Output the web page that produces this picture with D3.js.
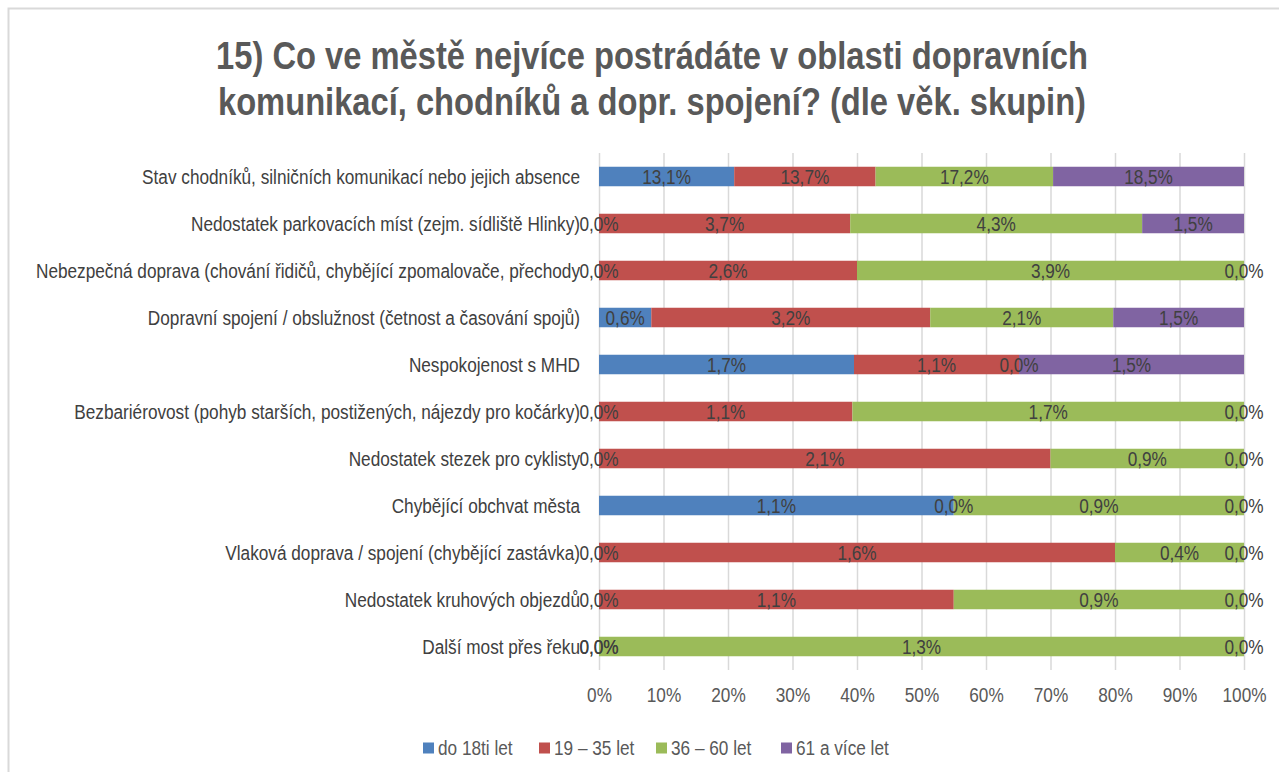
<!DOCTYPE html>
<html lang="cs">
  <head>
    <meta charset="UTF-8" />
    <title>Doprava dle věkových skupin</title>
    <script src="https://d3js.org/d3.v7.min.js"></script>
    <style>
      body {
        margin: 0;
        background: #fff;
      }
      svg {
        font-family: "Liberation Sans Narrow", "Arial Narrow", "Liberation Sans", Arial, sans-serif;
      }
    </style>
  </head>
  <body>
    <div class="chart"></div>

    <script>
      var categories = [
        "Stav chodníků, silničních komunikací nebo jejich absence",
        "Nedostatek parkovacích míst (zejm. sídliště Hlinky)",
        "Nebezpečná doprava (chování řidičů, chybějící zpomalovače, přechody",
        "Dopravní spojení / obslužnost (četnost a časování spojů)",
        "Nespokojenost s MHD",
        "Bezbariérovost (pohyb starších, postižených, nájezdy pro kočárky)",
        "Nedostatek stezek pro cyklisty",
        "Chybějící obchvat města",
        "Vlaková doprava / spojení (chybějící zastávka)",
        "Nedostatek kruhových objezdů",
        "Další most přes řeku"
      ];

      var seriesNames = ["do 18ti let", "19 – 35 let", "36 – 60 let", "61 a více let"];

      // values in % (as shown in the labels)
      var age18 = [13.1, 0.0, 0.0, 0.6, 1.7, 0.0, 0.0, 1.1, 0.0, 0.0, 0.0];
      var age35 = [13.7, 3.7, 2.6, 3.2, 1.1, 1.1, 2.1, 0.0, 1.6, 1.1, 0.0];
      var age60 = [17.2, 4.3, 3.9, 2.1, 0.0, 1.7, 0.9, 0.9, 0.4, 0.9, 1.3];
      var age61 = [18.5, 1.5, 0.0, 1.5, 1.5, 0.0, 0.0, 0.0, 0.0, 0.0, 0.0];

      var tickValues = [0, 0.1, 0.2, 0.3, 0.4, 0.5, 0.6, 0.7, 0.8, 0.9, 1];
      var colors = ["#4f81bd", "#c0504d", "#9bbb59", "#8064a2"];

      var W = 1279, H = 772;
      var margin = { top: 153, right: 35, bottom: 102, left: 599 };
      var squeeze = 0.86; // no narrow font installed, so compress text horizontally

      var svg = d3
        .select(".chart")
        .append("svg")
        .attr("width", W)
        .attr("height", H);

      // chart area border (only top/left visible)
      svg
        .append("rect")
        .attr("x", 8.5)
        .attr("y", 8.5)
        .attr("width", W + 20)
        .attr("height", H + 20)
        .attr("fill", "none")
        .attr("stroke", "#d9d9d9")
        .attr("stroke-width", 2);

      // title
      var titleLines = [
        "15) Co ve městě nejvíce postrádáte v oblasti dopravních",
        "komunikací, chodníků a dopr. spojení? (dle věk. skupin)"
      ];
      svg
        .append("g")
        .selectAll("text")
        .data(titleLines)
        .join("text")
        .attr("class", "narrow")
        .attr("x", 652)
        .attr("y", function (d, i) { return 69 + i * 46; })
        .attr("text-anchor", "middle")
        .attr("fill", "#595959")
        .style("font-size", "38px")
        .style("font-weight", "bold")
        .text(function (d) { return d; });

      var rows = categories.map(function (c, i) {
        var vals = [age18[i], age35[i], age60[i], age61[i]];
        var total = d3.sum(vals);
        var acc = 0;
        return {
          cat: c,
          segs: vals.map(function (v, k) {
            var s = { k: k, v: v, x0: acc / total, x1: (acc + v) / total };
            acc += v;
            return s;
          })
        };
      });

      var x = d3.scaleLinear().domain([0, 1]).range([margin.left, W - margin.right]);
      var y = d3
        .scaleBand()
        .domain(categories)
        .range([margin.top, H - margin.bottom])
        .paddingInner(0.585)
        .paddingOuter(0.2925);

      // gridlines
      svg
        .append("g")
        .attr("transform", "translate(0," + margin.top + ")")
        .call(d3.axisBottom(x).tickValues(tickValues).tickSize(H - margin.bottom - margin.top).tickFormat(""))
        .call(function (g) {
          g.select(".domain").remove();
          g.selectAll("line").attr("stroke", "#d9d9d9").attr("stroke-width", 1.5);
        });

      // x axis labels
      svg
        .append("g")
        .attr("transform", "translate(0," + (H - margin.bottom) + ")")
        .call(d3.axisBottom(x).tickValues(tickValues).tickSize(0).tickPadding(18).tickFormat(d3.format(".0%")))
        .call(function (g) {
          g.select(".domain").remove();
          g.selectAll("text")
            .attr("class", "narrow")
            .attr("fill", "#595959")
            .style("font-size", "20px")
            .style("font-family", "inherit");
        });

      // category labels
      svg
        .append("g")
        .selectAll("text")
        .data(categories)
        .join("text")
        .attr("class", "narrow")
        .attr("x", 580)
        .attr("y", function (d) { return y(d) + y.bandwidth() / 2; })
        .attr("dy", "0.35em")
        .attr("text-anchor", "end")
        .attr("fill", "#404040")
        .style("font-size", "20px")
        .text(function (d) { return d; });

      // bars
      var row = svg
        .append("g")
        .selectAll("g")
        .data(rows)
        .join("g")
        .attr("transform", function (d) { return "translate(0," + y(d.cat) + ")"; });

      row
        .selectAll("rect")
        .data(function (d) { return d.segs; })
        .join("rect")
        .attr("x", function (d) { return x(d.x0); })
        .attr("width", function (d) { return x(d.x1) - x(d.x0); })
        .attr("height", y.bandwidth())
        .attr("fill", function (d) { return colors[d.k]; });

      var fmt = function (v) { return v.toFixed(1).replace(".", ",") + "%"; };

      row
        .selectAll("text")
        .data(function (d) { return d.segs; })
        .join("text")
        .attr("class", "narrow")
        .attr("x", function (d) { return (x(d.x0) + x(d.x1)) / 2; })
        .attr("y", y.bandwidth() / 2)
        .attr("dy", "0.35em")
        .attr("text-anchor", "middle")
        .attr("fill", "#404040")
        .style("font-size", "20px")
        .text(function (d) { return fmt(d.v); });

      // legend
      var legendX = [423, 539, 656, 781];
      var legend = svg
        .append("g")
        .selectAll("g")
        .data(seriesNames)
        .join("g")
        .attr("transform", function (d, i) { return "translate(" + legendX[i] + ",748)"; });

      legend
        .append("rect")
        .attr("y", -5.5)
        .attr("width", 11)
        .attr("height", 11)
        .attr("fill", function (d, i) { return colors[i]; });

      legend
        .append("text")
        .attr("class", "narrow")
        .attr("x", 15)
        .attr("dy", "0.35em")
        .attr("fill", "#595959")
        .style("font-size", "20px")
        .text(function (d) { return d; });

      // squeeze every text to mimic a narrow font
      svg.selectAll("text.narrow").each(function () {
        var len = this.getComputedTextLength();
        d3.select(this)
          .attr("textLength", len * squeeze)
          .attr("lengthAdjust", "spacingAndGlyphs");
      });
    </script>
  </body>
</html>
